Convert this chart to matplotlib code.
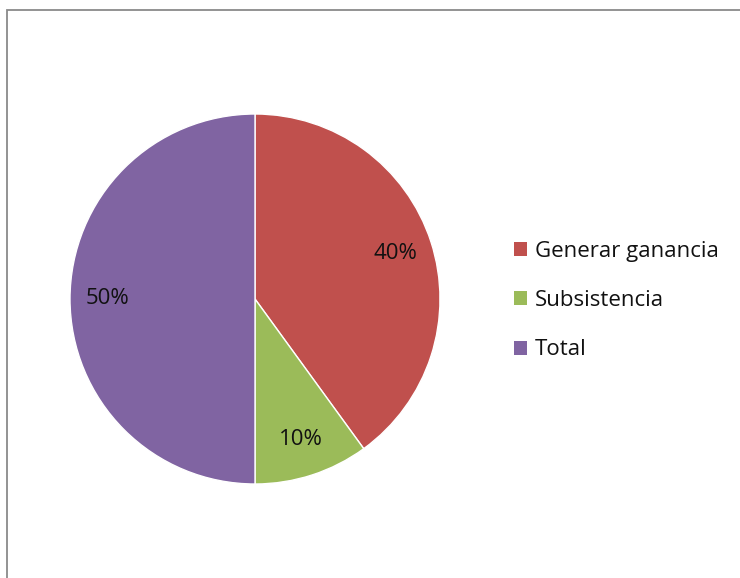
import matplotlib
matplotlib.use("Agg")
import matplotlib.pyplot as plt
from matplotlib.patches import Rectangle

categories = ["Generar ganancia", "Subsistencia", "Total"]
values = [40, 10, 50]
colors = ["#C0504D", "#9BBB59", "#8064A2"]

plt.rcParams['font.family'] = ['Open Sans', 'DejaVu Sans']

W, H = 740, 578
fig = plt.figure(figsize=(W / 100, H / 100), dpi=100)
fig.patch.set_facecolor("white")

# chart border (clipped at right/bottom)
fig.add_artist(Rectangle((7 / W, -0.1), 1.2, 1 - 10 / H + 0.1,
                         transform=fig.transFigure, fill=False,
                         edgecolor="#8a8a8a", linewidth=1.3))

cx, cy, r = 255, 299, 185
ax = fig.add_axes([(cx - r) / W, 1 - (cy + r) / H, 2 * r / W, 2 * r / H])
wedges, texts, autotexts = ax.pie(values, colors=colors, startangle=90,
                                  counterclock=False, autopct='%1.0f%%',
                                  pctdistance=0.8, radius=1,
                                  wedgeprops=dict(linewidth=1, edgecolor="white"),
                                  textprops=dict(fontsize=16, color="#111111"))
ax.set_xlim(-1, 1)
ax.set_ylim(-1, 1)
ax.set_aspect('equal')
ax.axis('off')

leg = fig.legend(wedges, categories, loc='upper left',
                 bbox_to_anchor=(494 / W, 1 - 221 / H), frameon=False,
                 fontsize=16, handlelength=0.58, handleheight=0.58,
                 handletextpad=0.35, labelspacing=1.27, labelcolor="#111111")
for h in leg.legend_handles:
    h.set_linewidth(0)

fig.savefig("out.png", dpi=100, facecolor="white")
